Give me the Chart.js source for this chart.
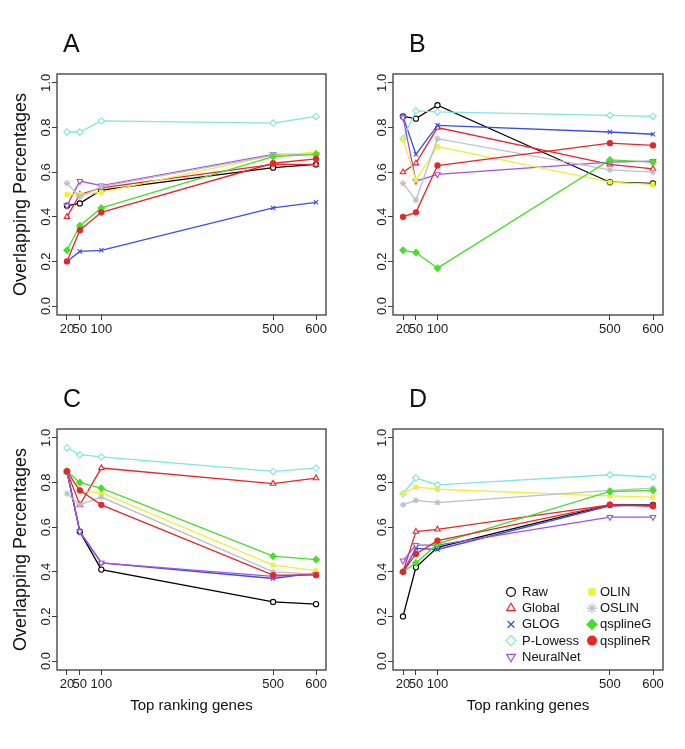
<!DOCTYPE html>
<html>
<head>
<meta charset="utf-8">
<script src="https://cdn.jsdelivr.net/npm/chart.js@4.4.1/dist/chart.umd.min.js"></script>
<style>
html, body { margin: 0; padding: 0; background: #fff; }
#wrap { position: relative; width: 685px; height: 749px; overflow: hidden; }
#wrap canvas { position: absolute; left: 0; top: 0; }
</style>
</head>
<body>
<div id="wrap">
	<canvas id="pA" width="685" height="749"></canvas>
	<canvas id="pB" width="685" height="749"></canvas>
	<canvas id="pC" width="685" height="749"></canvas>
	<canvas id="pD" width="685" height="749"></canvas>
</div>
<script>
const genes = [20, 50, 100, 500, 600];
const methods = ['Raw', 'Global', 'GLOG', 'P-Lowess', 'NeuralNet', 'OLIN', 'OSLIN', 'qsplineG', 'qsplineR'];
const yTicks = [0, 0.2, 0.4, 0.6, 0.8, 1.0];

// one row per method, same order as methods
const valuesA = [
	[0.45, 0.46, 0.52, 0.62, 0.635],
	[0.40, 0.50, 0.53, 0.635, 0.635],
	[0.20, 0.245, 0.25, 0.44, 0.465],
	[0.78, 0.78, 0.83, 0.82, 0.85],
	[0.45, 0.56, 0.54, 0.68, 0.68],
	[0.50, 0.50, 0.51, 0.675, 0.69],
	[0.55, 0.49, 0.535, 0.675, 0.68],
	[0.25, 0.36, 0.44, 0.67, 0.68],
	[0.20, 0.34, 0.42, 0.64, 0.66]
];
const valuesB = [
	[0.85, 0.84, 0.90, 0.555, 0.55],
	[0.60, 0.64, 0.80, 0.635, 0.615],
	[0.85, 0.68, 0.81, 0.78, 0.77],
	[0.75, 0.875, 0.87, 0.855, 0.85],
	[0.845, 0.56, 0.59, 0.645, 0.65],
	[0.745, 0.565, 0.715, 0.555, 0.545],
	[0.55, 0.475, 0.75, 0.61, 0.60],
	[0.25, 0.24, 0.17, 0.655, 0.645],
	[0.40, 0.42, 0.63, 0.73, 0.72]
];
const valuesC = [
	[0.85, 0.58, 0.41, 0.265, 0.255],
	[0.85, 0.70, 0.865, 0.795, 0.82],
	[0.85, 0.58, 0.44, 0.37, 0.395],
	[0.955, 0.925, 0.915, 0.85, 0.865],
	[0.85, 0.58, 0.44, 0.38, 0.39],
	[0.85, 0.76, 0.755, 0.43, 0.405],
	[0.75, 0.70, 0.735, 0.40, 0.39],
	[0.85, 0.80, 0.775, 0.47, 0.455],
	[0.85, 0.765, 0.70, 0.385, 0.385]
];
const valuesD = [
	[0.20, 0.42, 0.51, 0.70, 0.70],
	[0.40, 0.58, 0.59, 0.70, 0.695],
	[0.40, 0.505, 0.50, 0.695, 0.70],
	[0.75, 0.82, 0.79, 0.835, 0.825],
	[0.45, 0.52, 0.52, 0.645, 0.645],
	[0.75, 0.78, 0.77, 0.74, 0.735],
	[0.70, 0.72, 0.71, 0.765, 0.775],
	[0.40, 0.44, 0.525, 0.76, 0.765],
	[0.40, 0.48, 0.54, 0.70, 0.695]
];

const FONT = "'Liberation Sans', Arial, sans-serif";

// colore, simbolo, riempimento per metodo
const stili = {
	'Raw':       { c: '#000000', s: 'circle',   r: 2.6, fill: false, rot: 0 },
	'Global':    { c: '#e8262b', s: 'triangle', r: 3.2, fill: false, rot: 0 },
	'GLOG':      { c: '#3b4de4', s: 'crossRot', r: 3,   fill: false, rot: 0 },
	'P-Lowess':  { c: '#80e6de', s: 'rectRot',  r: 3.2, fill: false, rot: 0 },
	'NeuralNet': { c: '#a44fe4', s: 'triangle', r: 3.2, fill: false, rot: 180 },
	'OLIN':      { c: '#eef03a', s: 'rect',     r: 2.6, fill: true,  rot: 0 },
	'OSLIN':     { c: '#b8c1c9', s: 'star',     r: 3.2, fill: false, rot: 0 },
	'qsplineG':  { c: '#48de2a', s: 'rectRot',  r: 3.2, fill: true,  rot: 0 },
	'qsplineR':  { c: '#e8262b', s: 'circle',   r: 2.6, fill: true,  rot: 0 }
};

const pannelli = [
	{ id: 'pA', lettera: 'A', vals: valuesA, box: [57, 74, 326, 315], left: true,  bottom: false, legenda: false },
	{ id: 'pB', lettera: 'B', vals: valuesB, box: [393, 74, 663, 315], left: false, bottom: false, legenda: false },
	{ id: 'pC', lettera: 'C', vals: valuesC, box: [57, 429, 326, 670], left: true,  bottom: true,  legenda: false },
	{ id: 'pD', lettera: 'D', vals: valuesD, box: [393, 429, 663, 670], left: false, bottom: true,  legenda: true }
];

const AXW = 40, AXH = 30;

const decor = {
	id: 'decor',
	afterDraw(chart, args, opts){
		const ctx = chart.ctx;
		const a = chart.chartArea;
		const p = opts.p;
		ctx.save();
		// riquadro
		ctx.strokeStyle = '#3a3a3a';
		ctx.lineWidth = 1.3;
		ctx.strokeRect(a.left, a.top, a.right - a.left, a.bottom - a.top);
		ctx.fillStyle = '#111';
		// lettera
		ctx.font = '25px ' + FONT;
		ctx.textAlign = 'left';
		ctx.textBaseline = 'middle';
		ctx.fillText(p.lettera, a.left + (p.left ? 6 : 16), a.top - 29);
		// titoli assi
		if(p.left){
			ctx.save();
			ctx.translate(21, (a.top + a.bottom) / 2);
			ctx.rotate(-Math.PI / 2);
			ctx.font = '18px ' + FONT;
			ctx.textAlign = 'center';
			ctx.fillText('Overlapping Percentages', 0, 0);
			ctx.restore();
		}
		if(p.bottom){
			ctx.font = '15px ' + FONT;
			ctx.textAlign = 'center';
			ctx.fillText('Top ranking genes', (a.left + a.right) / 2, 706);
		}
		if(p.legenda){
			const righe = 5;
			methods.forEach((m, i) => {
				const col = Math.floor(i / righe);
				const row = i % righe;
				const mx = col === 0 ? 511 : 592;
				const tx = col === 0 ? 522 : 600;
				const y = 592 + row * 16.2;
				const st = stili[m];
				ctx.strokeStyle = st.c;
				ctx.fillStyle = st.fill ? st.c : '#ffffff';
				ctx.lineWidth = 1.2;
				Chart.helpers.drawPoint(ctx, { pointStyle: st.s, rotation: st.rot, radius: st.r + 1.8, borderWidth: 1.2 }, mx, y);
				ctx.fillStyle = '#111';
				ctx.font = '13px ' + FONT;
				ctx.textAlign = 'left';
				ctx.textBaseline = 'middle';
				ctx.fillText(m, tx, y + 0.5);
			});
		}
		ctx.restore();
	}
};

function creaPannello(p){
	const [x0, y0, x1, y1] = p.box;
	const datasets = methods.map((m, i) => {
		const st = stili[m];
		return {
			label: m,
			data: genes.map((g, j) => ({ x: g, y: p.vals[i][j] })),
			borderColor: st.c,
			borderWidth: 1.3,
			pointStyle: st.s,
			pointRotation: st.rot,
			pointRadius: st.r,
			pointBorderWidth: 1.1,
			pointBorderColor: st.c,
			pointBackgroundColor: st.fill ? st.c : '#ffffff',
			tension: 0,
			order: methods.length - i
		};
	});
	const grid = { drawOnChartArea: false, drawTicks: true, tickLength: 5, color: '#3a3a3a', tickColor: '#3a3a3a', lineWidth: 1 };
	return new Chart(document.getElementById(p.id), {
		type: 'line',
		data: { datasets },
		options: {
			responsive: false,
			animation: false,
			devicePixelRatio: 1,
			layout: { padding: { left: x0 - AXW, top: y0, right: 685 - x1, bottom: 749 - y1 - AXH } },
			plugins: { legend: { display: false }, tooltip: { enabled: false }, decor: { p } },
			scales: {
				x: {
					type: 'linear',
					min: -3.2, max: 623.2,
					afterBuildTicks: s => { s.ticks = genes.map(v => ({ value: v })); },
					afterFit: s => { s.height = AXH; },
					grid, border: { display: false },
					ticks: { autoSkip: false, minRotation: 0, maxRotation: 0, padding: 2, color: '#1a1a1a', font: { size: 13, family: FONT } }
				},
				y: {
					type: 'linear',
					min: -0.04, max: 1.04,
					afterBuildTicks: s => { s.ticks = yTicks.map(v => ({ value: v })); },
					afterFit: s => { s.width = AXW; },
					grid, border: { display: false },
					ticks: { autoSkip: false, minRotation: 90, maxRotation: 90, crossAlign: 'center', padding: -3, color: '#1a1a1a', font: { size: 13, family: FONT },
						callback: v => Number(v).toFixed(1) }
				}
			}
		},
		plugins: [decor]
	});
}

pannelli.forEach(creaPannello);
</script>
</body>
</html>
